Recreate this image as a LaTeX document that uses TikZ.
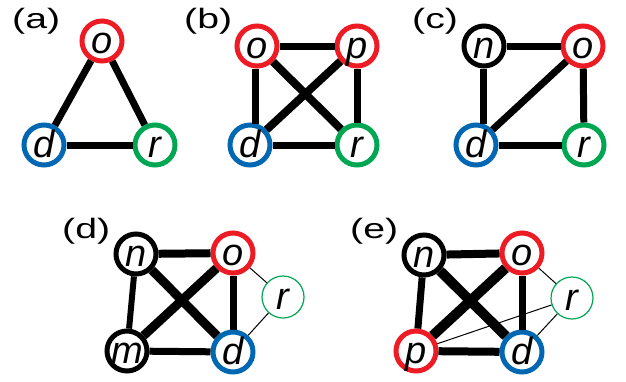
\documentclass[tikz,border=0pt]{standalone}
\usepackage{fontspec}
\setmainfont{Liberation Sans}
\newfontfamily\tagfont[FakeStretch=1.4]{Liberation Sans}
\definecolor{nred}{RGB}{237,28,36}
\definecolor{nblue}{RGB}{0,103,178}
\definecolor{ngreen}{RGB}{0,166,81}
\tikzset{
  vert/.style={circle,draw=#1,line width=5pt,fill=white,minimum size=40pt,inner sep=0pt,
    text height=24pt,text depth=0pt,font=\fontsize{38}{38}\selectfont\itshape},
  vert/.default=black,
  leaf/.style={circle,draw=ngreen,line width=1.2pt,fill=white,minimum size=42pt,inner sep=0pt,
    text height=24pt,text depth=0pt,font=\fontsize{38}{38}\selectfont\itshape},
  tag/.style={anchor=base west,inner sep=0pt,font=\tagfont\fontsize{28}{28}\selectfont},
  link/.style={line width=#1pt},
  link/.default=7
}

\begin{document}
\begin{tikzpicture}[x=1pt,y=-1pt]
                \useasboundingbox (0,0) rectangle (626,381);
                % (a)
                \node[tag] (la) at (12,28) {(a)};
                \node[vert=nred] (ao) at (102,41) {o};
                \node[vert=nblue] (ad) at (44,145) {d};
                \node[vert=ngreen] (ar) at (155,145) {r};
                \draw[link] (ao) -- (ad);
                \draw[link] (ao) -- (ar);
                \draw[link] (ad) -- (ar);
                % (b)
                \node[tag] (lb) at (184,28) {(b)};
                \node[vert=nred] (bo) at (257,46) {o};
                \node[vert=nred] (bp) at (357,46) {p};
                \node[vert=nblue] (bd) at (250,145) {d};
                \node[vert=ngreen] (br) at (357,145) {r};
                \draw[link] (bo) -- (bp);
                \draw[link] ([xshift=-2pt]bo.south) -- ([xshift=-2pt,yshift=-1pt]bo.south |- bd.north);
                \draw[link] (bp) -- (br);
                \draw[link] (bd) -- (br);
                \draw[link=8] (bo) -- (br);
                \draw[link=8] (bp) -- (bd);
                % (c)
                \node[tag] (lc) at (412,28) {(c)};
                \node[vert] (cn) at (484,46) {n};
                \node[vert=nred] (co) at (583,46) {o};
                \node[vert=nblue] (cd) at (476,145) {d};
                \node[vert=ngreen] (cr) at (584,145) {r};
                \draw[link] (cn) -- (co);
                \draw[link] ([xshift=-1pt]cn.south) -- ([xshift=-1pt,yshift=-1.5pt]cn.south |- cd.north);
                \draw[link] (co) -- (cd);
                \draw[link] (co) -- (cr);
                \draw[link] (cd) -- (cr);
                % (d)
                \node[tag] (ld) at (62,238) {(d)};
                \node[vert] (dn) at (136,254) {n};
                \node[vert=nred] (do) at (233,253) {o};
                \node[vert] (dm) at (127,351) {m};
                \node[vert=nblue] (dd) at (233,352) {d};
                \node[leaf] (dr) at (283,297) {r};
                \draw[link=8] (dn) -- (do);
                \draw[link=6] (dn) -- (dm);
                \draw[link] (do) -- (dd);
                \draw[link] (dm) -- (dd);
                \draw[link=9] (dn) -- (dd);
                \draw[link=9] (do) -- (dm);
                \draw[link=1] (do) -- (dr);
                \draw[link=1] (dd) -- (dr);
                % (e)
                \node[tag] (le) at (350,238) {(e)};
                \node[vert] (en) at (424,255) {n};
                \node[vert=nred] (eo) at (522,253) {o};
                \node[vert=nred] (ep) at (416,351) {p};
                \node[vert=nblue] (ed) at (522,352) {d};
                \node[leaf] (er) at (572,298) {r};
                \draw[link=8] (en) -- (eo);
                \draw[link] (en) -- (ep);
                \draw[link] (eo) -- (ed);
                \draw[link=8] (ep) -- (ed);
                \draw[link=10] (en) -- (ed);
                \draw[link=10] (eo) -- (ep);
                \draw[link=1] (eo) -- (er);
                \draw[link=1] (ed) -- (er);
                \draw[link=1] (ep) -- (er);
\end{tikzpicture}
\end{document}
